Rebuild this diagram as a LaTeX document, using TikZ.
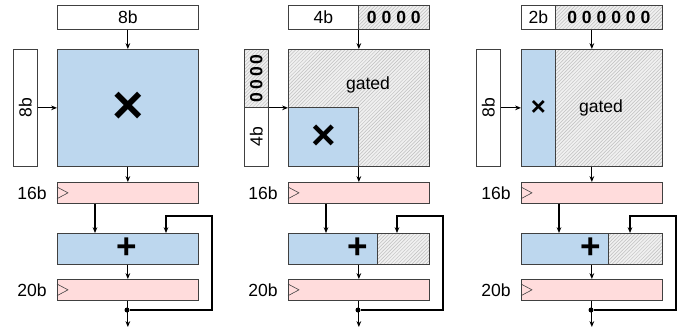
\documentclass[tikz,border=0pt]{standalone}
\usepackage{fontspec}
\setmainfont{Liberation Sans}
\usepackage{tikz}
\usetikzlibrary{positioning, calc, arrows.meta, patterns}

\definecolor{mulblue}{HTML}{BDD7EE}
\definecolor{regpink}{HTML}{FFDCDC}
\definecolor{edgegray}{HTML}{404040}
\definecolor{hatchbg}{HTML}{F0F0F0}

\def\u{0.03cm}

\tikzset{
	blk/.style={draw=edgegray, line width=0.6pt, inner sep=0, anchor=north west},
	mul/.style={blk, fill=mulblue},
	reg/.style={blk, fill=regpink, minimum width=141*\u, minimum height=21*\u},
	inbox/.style={blk, fill=white},
	gate/.style={blk, preaction={fill=hatchbg}, pattern=north east lines, pattern color=gray!50},
	arr/.style={line width=1pt, -{Stealth[length=5pt, width=4pt]}},
	clk/.style={draw=edgegray, line width=0.5pt},
	lbl/.style={inner sep=0},
	sym/.style={inner sep=0},
	jdot/.style={circle, fill=black, inner sep=0, minimum size=5*\u},
}

\begin{document}
\begin{tikzpicture}[x=\u, y=-\u, font=\fontsize{15}{18}\selectfont]
	\useasboundingbox (0,0) rectangle (686,328);

	% accumulate part, same in every column
	\foreach \s/\p in {57/a, 288/b, 521/c} {
		\begin{scope}[shift={(\s,0)}]
			\node[reg] (r16\p) at (0,182) {};
			\node[reg] (r20\p) at (0,279) {};
			\node[mul, minimum width=141*\u, minimum height=31*\u] (add\p) at (0,233) {};
			\node[sym, font=\bfseries\fontsize{30}{30}\selectfont] (plus\p) at (70,248.5) {+};
			\node[lbl, left=0.3cm of r16\p] (l16\p) {16b};
			\node[lbl, left=0.3cm of r20\p] (l20\p) {20b};
			\foreach \r in {r16\p, r20\p}
				\draw[clk] ([yshift=-5*\u]\r.north west) -- ([xshift=11*\u]\r.west) -- ([yshift=5*\u]\r.south west);
			\node[jdot] (j\p) at (70,310) {};
			\coordinate (out\p) at (70,327);
			\coordinate (fb\p) at (155,216);
		\end{scope}
	}

	\begin{scope}[shift={(57,0)}]
		\node[inbox, minimum width=141*\u, minimum height=24*\u] (ta) at (0,5) {8b};
		\node[inbox, minimum width=24*\u, minimum height=117*\u] (la) at (-44,49) {\rotatebox{90}{8b}};
		\node[mul, minimum width=141*\u, minimum height=117*\u] (ma) at (0,49) {};
		\node[sym, font=\bfseries\fontsize{46}{46}\selectfont] (xa) at (ma.center) {×};
	\end{scope}

	\begin{scope}[shift={(288,0)}]
		\node[inbox, minimum width=70*\u, minimum height=24*\u] (tb) at (0,5) {4b};
		\node[gate, minimum width=71*\u, minimum height=24*\u] (zb) at (70,5) {\bfseries 0 0 0 0};
		\node[gate, minimum width=24*\u, minimum height=58*\u] (lzb) at (-44,49) {\rotatebox{90}{\bfseries 0\,0\,0\,0}};
		\node[inbox, minimum width=24*\u, minimum height=59*\u] (lb) at (-44,107) {\rotatebox{90}{4b}};
		\node[gate, minimum width=141*\u, minimum height=117*\u] (mb) at (0,49) {};
		\node[mul, minimum width=70*\u, minimum height=59*\u] (mbb) at (0,107) {};
		\node[sym, font=\bfseries\fontsize{36}{36}\selectfont] (xb) at (mbb.center) {×};
		\node[lbl] (gb) at (80,85) {gated};
		\node[gate, minimum width=52*\u, minimum height=31*\u] (hb) at (89,233) {};
	\end{scope}

	\begin{scope}[shift={(521,0)}]
		\node[inbox, minimum width=34*\u, minimum height=24*\u] (tc) at (0,5) {2b};
		\node[gate, minimum width=107*\u, minimum height=24*\u] (zc) at (34,5) {\bfseries 0 0 0 0 0 0};
		\node[inbox, minimum width=24*\u, minimum height=117*\u] (lc) at (-45,49) {\rotatebox{90}{8b}};
		\node[mul, minimum width=34*\u, minimum height=117*\u] (mc) at (0,49) {};
		\node[gate, minimum width=107*\u, minimum height=117*\u] (mgc) at (34,49) {};
		\node[sym, font=\bfseries\fontsize{22}{22}\selectfont] (xc) at (mc.center) {×};
		\node[lbl] (gc) at (80,107.5) {gated};
		\node[gate, minimum width=54*\u, minimum height=31*\u] (hc) at (87,233) {};
	\end{scope}

	\foreach \p in {a,b,c} {
		\draw[arr] (r16\p.north |- t\p.south) -- (r16\p.north |- m\p.north);
		\draw[arr] (l\p.east |- m\p.west) -- (m\p.west);
		\draw[arr] (r16\p.north |- m\p.south) -- (r16\p.north);
		\draw[arr] ([xshift=38*\u]r16\p.south west) -- ([xshift=38*\u]add\p.north west);
		\draw[arr] (add\p) -- (r20\p);
		\draw[arr] (r20\p.south) -- (r20\p.south |- out\p);
		\draw[arr] (j\p) -| (fb\p) -| ([xshift=109*\u]add\p.north west);
	}
\end{tikzpicture}
\end{document}
